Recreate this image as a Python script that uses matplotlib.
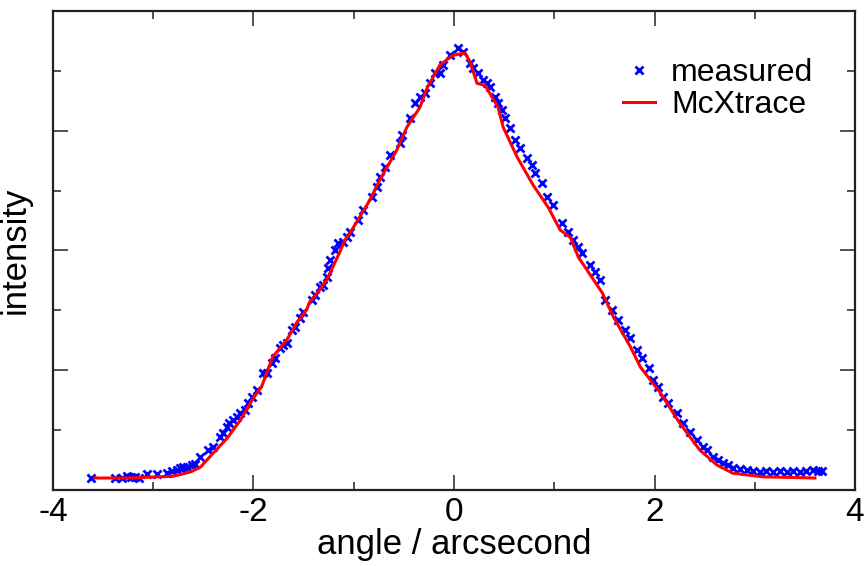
import matplotlib
matplotlib.use("Agg")
import matplotlib.pyplot as plt
from matplotlib.ticker import MultipleLocator, NullFormatter

plt.rcParams["font.family"] = ["Liberation Sans", "DejaVu Sans"]
plt.rcParams["axes.unicode_minus"] = False

# measured rocking curve (angle in arcsec, intensity in arbitrary units)
meas_x = [-3.62, -3.38, -3.31, -3.26, -3.22, -3.18, -3.14, -3.06, -2.96, -2.86,
          -2.81, -2.76, -2.73, -2.70, -2.66, -2.61, -2.58, -2.53, -2.45, -2.40,
          -2.33, -2.30, -2.26, -2.24, -2.20, -2.16, -2.13, -2.08, -2.05, -2.01,
          -1.96, -1.91, -1.87, -1.82, -1.79, -1.74, -1.71, -1.67, -1.62, -1.59,
          -1.54, -1.51, -1.42, -1.39, -1.34, -1.31, -1.27, -1.26, -1.24, -1.19,
          -1.16, -1.11, -1.07, -1.04, -0.96, -0.91, -0.82, -0.77, -0.74, -0.69,
          -0.64, -0.54, -0.52, -0.44, -0.39, -0.34, -0.29, -0.24, -0.19, -0.14,
          -0.11, -0.04, 0.04, 0.09, 0.16, 0.19, 0.24, 0.29, 0.33, 0.36,
          0.41, 0.44, 0.48, 0.51, 0.56, 0.61, 0.66, 0.73, 0.78, 0.81,
          0.88, 0.93, 0.99, 1.08, 1.14, 1.19, 1.24, 1.28, 1.36, 1.41,
          1.46, 1.51, 1.58, 1.64, 1.71, 1.76, 1.83, 1.88, 1.94, 1.98,
          2.03, 2.08, 2.13, 2.22, 2.28, 2.35, 2.42, 2.48, 2.52, 2.58,
          2.63, 2.68, 2.73, 2.78, 2.85, 2.92, 2.98, 3.05, 3.11, 3.18,
          3.25, 3.32, 3.38, 3.45, 3.51, 3.58, 3.63, 3.67]
meas_y = [0.20, 0.20, 0.20, 0.23, 0.22, 0.22, 0.20, 0.27, 0.27, 0.28,
          0.32, 0.33, 0.37, 0.38, 0.38, 0.42, 0.43, 0.55, 0.67, 0.72,
          0.88, 0.95, 1.05, 1.12, 1.17, 1.22, 1.29, 1.34, 1.45, 1.55,
          1.67, 1.95, 1.95, 2.12, 2.20, 2.37, 2.42, 2.45, 2.67, 2.72,
          2.87, 2.97, 3.17, 3.26, 3.39, 3.42, 3.56, 3.71, 3.84, 4.01,
          4.12, 4.14, 4.22, 4.31, 4.51, 4.67, 4.89, 5.06, 5.23, 5.39,
          5.59, 5.79, 5.93, 6.21, 6.46, 6.56, 6.63, 6.79, 6.96, 6.96,
          7.10, 7.26, 7.38, 7.31, 7.13, 7.05, 6.96, 6.84, 6.79, 6.73,
          6.56, 6.46, 6.34, 6.21, 6.04, 5.84, 5.71, 5.54, 5.43, 5.29,
          5.13, 4.89, 4.76, 4.46, 4.31, 4.17, 4.06, 3.96, 3.76, 3.64,
          3.51, 3.17, 3.01, 2.84, 2.67, 2.54, 2.34, 2.20, 2.04, 1.84,
          1.72, 1.55, 1.45, 1.29, 1.12, 0.97, 0.83, 0.72, 0.67, 0.55,
          0.50, 0.45, 0.41, 0.37, 0.35, 0.33, 0.32, 0.30, 0.31, 0.30,
          0.31, 0.30, 0.32, 0.30, 0.31, 0.33, 0.31, 0.32]

# McXtrace simulation
sim_x = [-3.58, -3.23, -2.80, -2.63, -2.53, -2.40, -2.26, -2.13, -2.00, -1.92,
         -1.81, -1.67, -1.57, -1.47, -1.44, -1.34, -1.27, -1.21, -1.14, -1.09,
         -1.02, -0.84, -0.74, -0.61, -0.57, -0.47, -0.34, -0.27, -0.14, -0.01,
         0.11, 0.16, 0.23, 0.31, 0.44, 0.49, 0.63, 0.79, 0.94, 1.06,
         1.16, 1.24, 1.48, 1.59, 1.76, 1.86, 2.06, 2.25, 2.45, 2.62,
         2.78, 3.08, 3.60]
sim_y = [0.20, 0.20, 0.23, 0.30, 0.38, 0.62, 0.87, 1.17, 1.54, 1.72,
         2.22, 2.50, 2.79, 3.01, 3.14, 3.34, 3.51, 3.72, 3.97, 4.17,
         4.34, 4.84, 5.18, 5.56, 5.68, 6.06, 6.39, 6.71, 7.10, 7.26,
         7.30, 7.15, 6.79, 6.76, 6.39, 6.06, 5.56, 5.09, 4.72, 4.34,
         4.22, 3.89, 3.29, 2.89, 2.39, 2.05, 1.62, 1.12, 0.67, 0.42,
         0.28, 0.22, 0.20]

fig = plt.figure(figsize=(8.67, 5.66), dpi=100)
ax = fig.add_axes([0.0611, 0.1343, 0.9251, 0.8463])

ax.plot(meas_x, meas_y, linestyle="none", marker="x", color="#0000ff",
        markersize=6, markeredgewidth=2.0, label="measured")
ax.plot(sim_x, sim_y, color="#ff0000", linewidth=2.2, label="McXtrace")

ax.set_xlim(-4, 4)
ax.set_ylim(0, 8)
ax.xaxis.set_major_locator(MultipleLocator(2))
ax.xaxis.set_minor_locator(MultipleLocator(1))
ax.yaxis.set_major_locator(MultipleLocator(2))
ax.yaxis.set_minor_locator(MultipleLocator(1))
ax.yaxis.set_major_formatter(NullFormatter())
ax.tick_params(which="both", direction="in", top=True, right=True,
               color="#333333", width=1.2, labelsize=24)
ax.tick_params(which="major", length=11)
ax.tick_params(which="minor", length=6)
ax.tick_params(axis="x", pad=5)
for s in ax.spines.values():
    s.set_linewidth(1.6)
    s.set_color("#222222")

ax.set_xlabel("angle / arcsecond", fontsize=25, labelpad=0)
ax.set_ylabel("intensity", fontsize=25, labelpad=12)

ax.legend(loc="upper left", bbox_to_anchor=(0.711, 0.901), frameon=False,
          fontsize=23, handlelength=1.0, handletextpad=0.5, numpoints=1,
          borderpad=0, borderaxespad=0, labelspacing=0.05)

fig.savefig("out.png", dpi=100)
